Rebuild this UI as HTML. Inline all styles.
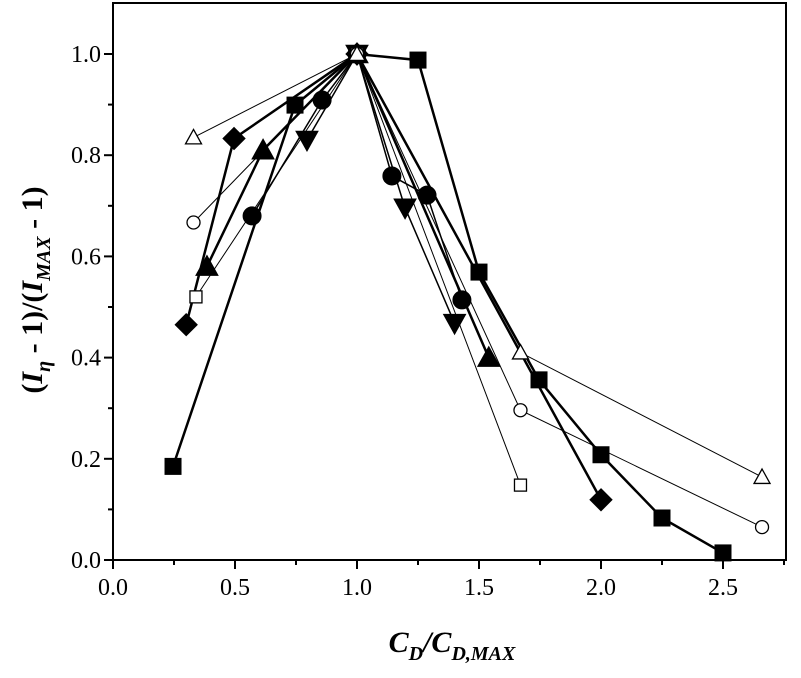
<!DOCTYPE html>
<html><head><meta charset="utf-8"><style>
html,body{margin:0;padding:0;background:#fff;}
svg{display:block;font-family:"Liberation Serif",serif;}
</style></head><body>
<svg id="chart" width="801" height="678" viewBox="0 0 801 678" xmlns="http://www.w3.org/2000/svg">
<g id="axes"></g>
<g id="series"></g>
<text x="452" y="652" text-anchor="middle" font-size="30" font-weight="bold" font-style="italic">C<tspan font-size="20" dy="8">D</tspan><tspan dy="-8">/C</tspan><tspan font-size="20" dy="8">D,MAX</tspan></text>
<text transform="translate(42,290) rotate(-90)" text-anchor="middle" font-size="30" font-weight="bold">(<tspan font-style="italic">I</tspan><tspan font-size="20" font-style="italic" dy="8">η</tspan><tspan dy="-8"> - 1)/(</tspan><tspan font-style="italic">I</tspan><tspan font-size="20" font-style="italic" dy="8">MAX</tspan><tspan dy="-8"> - 1)</tspan></text>
</svg>
<script>
const xTicks = [0.0, 0.5, 1.0, 1.5, 2.0, 2.5];
const xTickLabels = ["0.0","0.5","1.0","1.5","2.0","2.5"];
const yTicks = [0.0, 0.2, 0.4, 0.6, 0.8, 1.0];
const yTickLabels = ["0.0","0.2","0.4","0.6","0.8","1.0"];
const sqX = [0.246, 0.746, 1.0, 1.25, 1.5, 1.746, 2.0, 2.25, 2.5];
const sqY = [0.185, 0.899, 1.0, 0.988, 0.569, 0.356, 0.208, 0.083, 0.014];
const diaX = [0.30, 0.496, 1.0, 2.0];
const diaY = [0.465, 0.833, 1.0, 0.119];
const triX = [0.385, 0.615, 1.0, 1.54];
const triY = [0.58, 0.81, 1.0, 0.40];
const cirX = [0.57, 0.857, 1.0, 1.143, 1.287, 1.43];
const cirY = [0.68, 0.909, 1.0, 0.759, 0.721, 0.514];
const tdX = [0.795, 1.0, 1.197, 1.40];
const tdY = [0.83, 1.0, 0.696, 0.468];
const otX = [0.33, 1.0, 1.67, 2.66];
const otY = [0.835, 1.0, 0.41, 0.164];
const ocX = [0.33, 1.0, 1.67, 2.66];
const ocY = [0.667, 1.0, 0.296, 0.065];
const osX = [0.34, 1.0, 1.67];
const osY = [0.52, 1.0, 0.148];

const X0=113, XU=244, Y0=560, YU=506;
const L=113, R=786, T=3, B=560;
function sx(v){return X0+v*XU;}
function sy(v){return Y0-v*YU;}
const NS="http://www.w3.org/2000/svg";
function mk(tag, attrs, parent){const e=document.createElementNS(NS,tag);for(const k in attrs)e.setAttribute(k,attrs[k]);parent.appendChild(e);return e;}
const axes=document.getElementById('axes');
const ser=document.getElementById('series');

const frame=mk('rect',{x:L,y:T,width:R-L,height:B-T,fill:'none',stroke:'#000','stroke-width':2},axes);


for(let i=0;i<=11;i++){
  const v=i*0.25; const x=sx(v); const major=i%2===0;
  const t=mk('line',{x1:x,y1:B,x2:x,y2:B+(major?9:5),stroke:'#000','stroke-width':2},axes);
  
  
}
xTicks.forEach((v,i)=>{
  const t=mk('text',{x:sx(v),y:B+35,'text-anchor':'middle','font-size':24},axes);
  t.textContent=xTickLabels[i];
  
  
});
for(let i=0;i<=10;i++){
  const v=i*0.1; const y=sy(v); const major=i%2===0;
  const t=mk('line',{x1:L,y1:y,x2:L-(major?9:5),y2:y,stroke:'#000','stroke-width':2},axes);
  
  
}
yTicks.forEach((v,i)=>{
  const t=mk('text',{x:L-12,y:sy(v)+8,'text-anchor':'end','font-size':24},axes);
  t.textContent=yTickLabels[i];
  
  
});

function marker(kind, x, y, filled, g){
  const f=filled?'#000':'#fff'; const sw=filled?1:1.3; let e;
  if(kind==='sq'){const s=filled?16:12;e=mk('rect',{x:x-s/2,y:y-s/2,width:s,height:s,fill:f,stroke:'#000','stroke-width':sw},g);}
  else if(kind==='ci'){e=mk('circle',{cx:x,cy:y,r:filled?9:6.5,fill:f,stroke:'#000','stroke-width':sw},g);}
  else if(kind==='di'){const s=11;e=mk('polygon',{points:`${x},${y-s} ${x+s},${y} ${x},${y+s} ${x-s},${y}`,fill:f,stroke:'#000','stroke-width':sw},g);}
  else if(kind==='tu'){const s=filled?11:8;e=mk('polygon',{points:`${x},${y-s} ${x+s},${y+s*0.8} ${x-s},${y+s*0.8}`,fill:f,stroke:'#000','stroke-width':sw},g);}
  else {const s=11;e=mk('polygon',{points:`${x},${y+s} ${x+s},${y-s*0.8} ${x-s},${y-s*0.8}`,fill:f,stroke:'#000','stroke-width':sw},g);}
  
  
}
function series(name, xs, ys, kind, filled, lw){
  const g=mk('g',{},ser);
  
  
  const pts=xs.map((v,i)=>sx(v)+','+sy(ys[i])).join(' ');
  const pl=mk('polyline',{points:pts,fill:'none',stroke:'#000','stroke-width':lw},g);
  
  
  xs.forEach((v,i)=>marker(kind,sx(v),sy(ys[i]),filled,g));
}
series('triangle-down-series',tdX,tdY,'td',true,1.5);
series('circle-series',cirX,cirY,'ci',true,1.5);
series('triangle-series',triX,triY,'tu',true,2.5);
series('diamond-series',diaX,diaY,'di',true,2.5);
series('square-series',sqX,sqY,'sq',true,2.5);
series('open-square-series',osX,osY,'sq',false,1);
series('open-circle-series',ocX,ocY,'ci',false,1);
series('open-triangle-series',otX,otY,'tu',false,1);
</script>
</body></html>
